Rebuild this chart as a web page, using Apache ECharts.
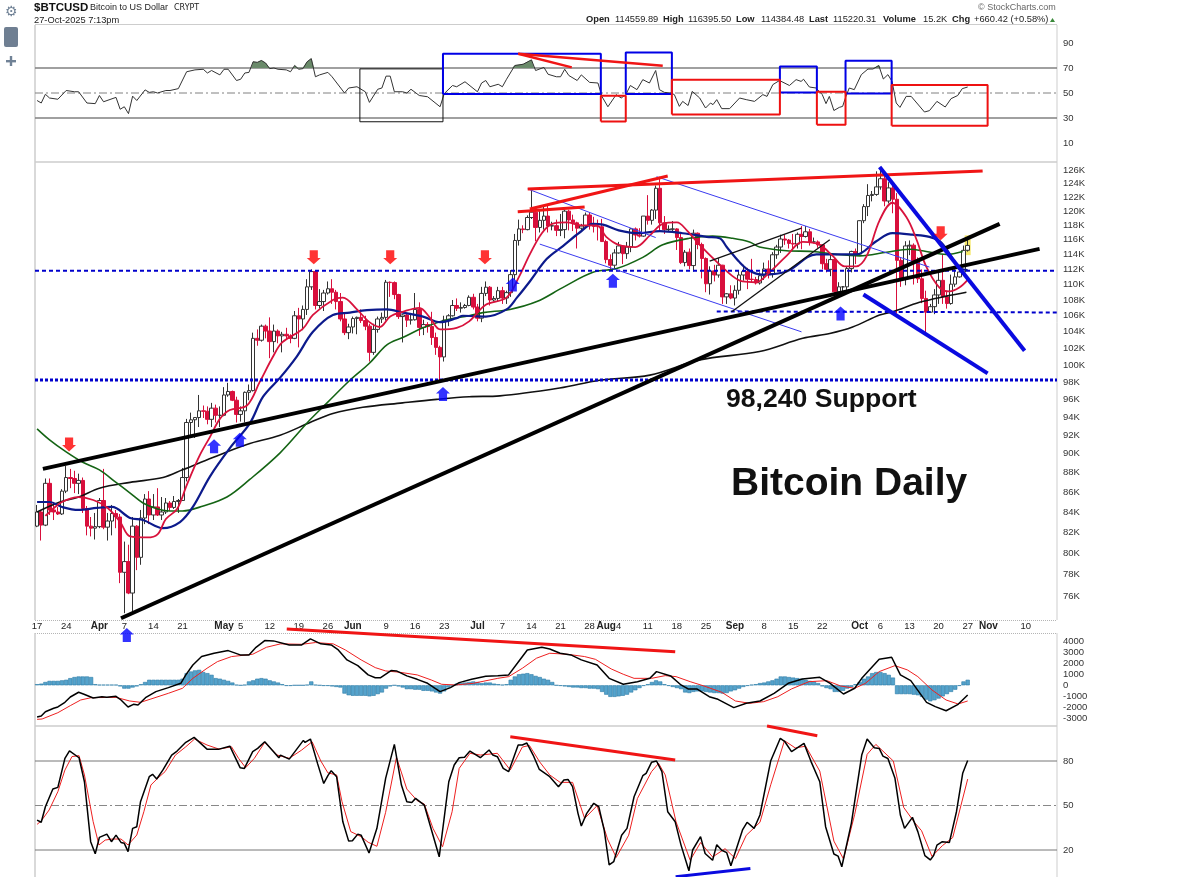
<!DOCTYPE html>
<html><head><meta charset="utf-8"><style>html,body{margin:0;padding:0;background:#fff}#c{width:1200px;height:877px}</style>
<script src="https://cdn.jsdelivr.net/npm/echarts@6/dist/echarts.min.js"></script></head><body><div id="c"></div>
<script>
// ---- axis labels
const tickDays=[0,7,15,21,28,35,45,49,56,63,70,76,84,91,98,106,112,119,126,133,137,140,147,154,161,168,175,182,189,198,203,210,217,224,229,238];
const tickTexts=['17','24','Apr','7','14','21','May','5','12','19','26','Jun','9','16','23','Jul','7','14','21','28','Aug','4','11','18','25','Sep','8','15','22','Oct','6','13','20','27','Nov','10'];
const priceTicks=[76,78,80,82,84,86,88,90,92,94,96,98,100,102,104,106,108,110,112,114,116,118,120,122,124,126];
const rsiTicks=[10,30,50,70,90], macdTicks=[-3000,-2000,-1000,0,1000,2000,3000,4000], stochTicks=[20,50,80];
const dayCount=246;
// ---- candles (thousands of USD), day 0 = 17 Mar
const opens=[82.6,84.0,82.7,86.9,84.2,84.0,83.8,86.1,87.5,87.4,86.9,87.2,84.35,82.6,82.4,82.55,85.15,82.5,83.1,83.85,83.5,78.2,79.2,76.3,82.6,79.6,83.4,85.3,83.7,84.5,83.7,84.0,84.9,84.45,85.05,85.15,87.5,93.4,93.7,93.95,94.7,94.65,93.75,95.0,94.2,94.2,96.5,96.9,95.9,94.3,94.7,96.8,97.0,103.2,102.97,104.7,104.1,102.8,104.1,103.5,103.7,103.5,103.2,106.0,105.6,106.8,109.7,111.7,107.3,107.8,108.9,109.45,109.0,107.8,105.6,103.9,104.6,105.65,105.8,105.4,104.7,101.5,104.3,105.6,105.8,110.3,110.25,108.7,105.9,106.1,105.45,105.5,106.8,104.55,104.9,104.65,103.3,102.1,100.95,105.45,106.0,107.3,106.95,107.05,107.3,108.35,107.1,105.7,108.85,109.65,108.0,108.2,109.2,108.25,108.95,111.3,115.9,117.5,117.4,119.1,119.85,117.7,118.7,119.3,117.9,117.95,117.3,117.4,120.0,118.75,118.35,117.6,117.9,119.45,117.95,117.85,117.8,115.75,113.3,112.55,114.2,115.15,114.1,115.0,117.5,116.65,116.5,119.3,118.7,120.15,123.3,118.35,117.4,117.45,117.5,116.3,112.9,114.3,112.5,116.9,115.35,113.45,110.1,111.8,111.25,112.55,108.4,108.8,108.25,109.25,111.25,111.7,110.7,110.65,110.2,111.15,112.05,111.4,113.95,115.0,116.1,115.95,115.5,115.4,116.75,116.45,117.1,115.7,115.7,115.3,112.75,112.0,113.3,109.05,109.7,109.7,112.1,114.4,114.05,118.65,120.65,122.25,122.4,123.5,124.7,121.45,123.35,121.7,113.2,110.8,115.15,115.25,113.0,110.75,108.2,106.45,107.15,108.65,110.55,108.4,107.55,110.05,111.0,111.65,114.56];
const highs=[84.7,84.2,87.4,87.4,85.0,84.5,86.3,88.7,88.4,88.2,87.9,87.5,84.6,83.5,83.9,85.4,88.4,83.9,84.7,84.2,83.8,81.1,80.8,83.5,82.7,84.2,85.8,86.1,85.8,86.4,85.5,85.4,85.1,85.6,85.3,88.5,93.8,94.5,94.0,96.5,95.3,95.2,95.6,95.4,95.2,97.4,97.9,97.0,96.3,95.2,96.9,97.7,103.9,104.3,104.9,104.9,105.8,104.9,104.3,104.0,104.5,103.7,106.6,107.0,107.3,110.7,112.0,111.8,109.4,109.3,110.4,110.7,109.3,108.9,106.3,105.0,105.9,105.9,106.8,106.0,105.0,105.0,105.9,106.4,110.6,110.4,110.4,108.8,106.2,106.2,106.1,108.9,107.7,105.5,105.2,106.5,103.9,102.3,106.0,106.2,108.0,108.2,107.7,107.5,108.6,108.8,107.5,109.7,110.4,109.8,108.5,109.7,109.7,109.2,111.9,116.8,118.8,118.0,119.4,123.1,119.9,120.0,120.8,120.9,118.5,118.8,119.6,120.2,120.2,119.5,118.5,118.2,119.8,119.8,119.2,118.8,118.9,116.0,114.0,114.7,115.7,115.2,115.7,117.6,117.7,117.6,119.3,122.3,120.3,123.7,125.0,119.3,118.0,118.6,117.6,117.0,114.6,114.8,117.4,117.0,115.6,113.6,112.4,112.6,113.5,112.6,108.9,109.9,109.9,111.8,112.6,112.2,113.4,111.0,111.6,112.9,113.2,114.3,115.3,116.7,116.7,116.1,116.8,117.0,117.9,117.9,117.5,116.3,115.9,115.4,113.4,114.0,113.5,110.3,109.8,112.4,114.5,114.8,118.7,121.0,123.9,122.9,125.8,126.2,125.1,124.2,123.7,122.6,113.5,115.8,115.9,115.5,113.6,112.0,109.2,107.5,109.4,111.6,114.0,109.2,111.3,112.0,112.0,115.2,116.4];
const lows=[82.5,81.2,82.6,83.7,83.2,83.7,83.7,85.9,86.4,85.9,85.8,83.9,81.7,81.6,81.3,82.4,82.3,81.2,81.7,82.4,77.2,74.5,76.2,74.6,78.4,78.9,82.8,82.8,83.2,83.6,83.2,83.8,84.1,84.3,83.9,85.1,87.1,91.9,91.7,92.9,93.9,93.2,92.9,93.4,92.9,94.1,96.3,95.8,93.4,93.5,93.4,95.9,96.9,102.3,102.8,103.2,100.8,101.5,102.6,101.5,103.1,102.6,103.1,102.1,104.2,106.1,109.3,106.8,106.9,106.6,108.7,107.5,106.8,105.3,103.6,103.1,103.8,103.7,105.1,104.2,100.4,101.2,103.9,105.1,105.4,108.4,108.1,105.6,102.7,104.6,104.9,105.4,103.5,103.6,103.9,102.4,101.2,98.2,100.4,104.7,105.9,106.6,106.4,106.9,107.2,106.8,105.3,105.2,108.5,107.3,107.8,107.8,107.5,107.5,108.4,110.6,115.2,116.9,117.3,118.9,115.8,117.0,117.4,117.0,117.3,116.5,116.5,116.2,117.3,117.2,114.8,117.2,117.8,117.4,117.0,115.9,115.7,112.8,112.0,112.0,114.1,112.7,113.4,114.3,115.9,116.3,116.4,118.1,118.1,118.9,117.2,116.8,117.2,117.2,114.6,112.7,112.4,112.0,111.7,114.7,110.8,109.0,108.7,110.4,110.9,107.5,107.5,108.1,107.3,108.7,110.5,109.4,110.2,110.0,110.0,110.6,110.8,110.9,113.4,114.2,115.3,114.8,114.5,114.8,114.7,116.3,115.2,115.5,114.9,112.0,111.6,111.1,108.7,108.6,109.1,109.3,111.6,112.7,113.9,118.3,119.3,121.4,122.2,123.1,120.7,121.1,119.7,106.3,109.7,109.9,113.9,110.0,110.2,107.6,103.6,106.4,106.2,107.5,107.5,106.9,107.4,109.7,110.9,111.3,114.38];
const closes=[84.0,82.7,86.9,84.2,84.0,83.8,86.1,87.5,87.4,86.9,87.2,84.35,82.6,82.4,82.55,85.15,82.5,83.1,83.85,83.5,78.2,79.2,76.3,82.6,79.6,83.4,85.3,83.7,84.5,83.7,84.0,84.9,84.45,85.05,85.15,87.5,93.4,93.7,93.95,94.7,94.65,93.75,95.0,94.2,94.2,96.5,96.9,95.9,94.3,94.7,96.8,97.0,103.2,102.97,104.7,104.1,102.8,104.1,103.5,103.7,103.5,103.2,106.0,105.6,106.8,109.7,111.7,107.3,107.8,108.9,109.45,109.0,107.8,105.6,103.9,104.6,105.65,105.8,105.4,104.7,101.5,104.3,105.6,105.8,110.3,110.25,108.7,105.9,106.1,105.45,105.5,106.8,104.55,104.9,104.65,103.3,102.1,100.95,105.45,106.0,107.3,106.95,107.05,107.3,108.35,107.1,105.7,108.85,109.65,108.0,108.2,109.2,108.25,108.95,111.3,115.9,117.5,117.4,119.1,119.85,117.7,118.7,119.3,117.9,117.95,117.3,117.4,120.0,118.75,118.35,117.6,117.9,119.45,117.95,117.85,117.8,115.75,113.3,112.55,114.2,115.15,114.1,115.0,117.5,116.65,116.5,119.3,118.7,120.15,123.3,118.35,117.4,117.45,117.5,116.3,112.9,114.3,112.5,116.9,115.35,113.45,110.1,111.8,111.25,112.55,108.4,108.8,108.25,109.25,111.25,111.7,110.7,110.65,110.2,111.15,112.05,111.4,113.95,115.0,116.1,115.95,115.5,115.4,116.75,116.45,117.1,115.7,115.7,115.3,112.75,112.0,113.3,109.05,109.7,109.7,112.1,114.4,114.05,118.65,120.65,122.25,122.4,123.5,124.7,121.45,123.35,121.7,113.2,110.8,115.15,115.25,113.0,110.75,108.2,106.45,107.15,108.65,110.55,108.4,107.55,110.05,111.0,111.65,114.55,115.22];
// ---- moving averages [day, K]
const maRed=[[2,83.6],[3,84],[6,85],[10,85.5],[13.5,85.2],[17,84.4],[20,83],[22.4,81.6],[26.5,81.5],[29,81.8],[31,83.3],[33.7,84.3],[36,86.7],[39,89.7],[41.6,91.8],[44,93.8],[46.4,94.8],[50.5,95.3],[53.6,98],[56.8,101],[59,102.7],[64,104.4],[66.4,106.1],[71.2,108],[73.6,108.3],[77,106.8],[80,105.2],[82.5,104.6],[85,105.9],[88,106.5],[92,107],[94.5,105.8],[97,104.3],[101,104.5],[104,105.3],[108,107.4],[113,108.3],[116,111],[118.6,114],[121.5,116.9],[124,118.2],[127.5,118.4],[131,118],[134.7,118],[137,116.4],[140,115.3],[144,115],[147.5,116.6],[150.6,118.2],[154,118.4],[156.4,117.3],[159.5,115.3],[163.6,113],[167.4,111.1],[169.8,110.4],[173,110.3],[176.3,111.6],[180.4,113.8],[184.3,115.7],[188.4,115.3],[191.5,113.8],[194.4,112.4],[197.2,112.4],[199.7,113.8],[202.8,118.7],[205.9,121.2],[209.3,119.1],[211.7,116],[214,112.4],[217.2,109.6],[219.6,109.1],[222,109.6],[224,110.6]];
const maNavy=[[0,85],[3,85],[6,84.5],[10,84.2],[14.4,84.4],[18,84.5],[22.4,83.4],[25.5,83.2],[30.3,82.4],[34.4,83],[37.5,84.5],[41.6,87.6],[46.4,90.6],[51.2,93.3],[54.4,96.3],[58.5,98.5],[62.5,101],[66.4,104],[71.2,106.1],[75.3,106.4],[79.4,106.7],[84.2,106.8],[88,106.4],[92.9,105.9],[97,105.2],[101,105.7],[102.5,106],[108,105.9],[113,106.8],[115.5,108.3],[118.6,110.4],[122.7,113.4],[126.5,115.1],[130.6,117],[133.8,118.2],[136.2,118.1],[140,117.3],[145,116.9],[149.9,117.2],[155.4,116.9],[161.2,116.4],[164.3,116.2],[166,115],[169,113],[171.5,111.8],[174.6,111.3],[180.4,111.7],[187.6,114],[192.4,114],[197.2,114],[202,115.8],[205.9,116.9],[210.7,116.7],[214.8,116.4],[217.7,115.6],[222,112.2],[224,111.9]];
const maGreen=[[0,92.7],[3,91.5],[7,90.2],[11,89.1],[15,88.3],[19,87],[22.4,85.9],[25.5,84.9],[29,84.3],[32,84.1],[35,84.1],[40,84.6],[45.7,85.5],[51.2,87.3],[58.5,90.1],[65.7,93.7],[69.8,95.6],[75.3,98.2],[80,100.2],[84.2,102.4],[88,103.3],[92.9,104.5],[98.6,105.5],[104,106],[107.3,106.4],[113.8,106.8],[120.3,107.8],[126.5,109.6],[133.8,111.6],[139.5,112.1],[145.8,113.6],[150.6,115.3],[157,116.2],[162.6,116.5],[167.4,116.2],[171.5,115.7],[173.9,115],[180.4,114.5],[186.7,114.4],[192.4,114],[198,113.8],[204.5,114.3],[210,114.7],[214,114.4],[218.9,114],[222.8,114.4]];
const maBlack=[[0,84],[5.5,85],[10,85.5],[15,86.4],[22.4,87],[30.3,87.5],[35,88.3],[42.3,89.6],[50.5,91],[58.5,92],[65.7,93.4],[71.2,94.4],[78.4,95.1],[88,95.6],[96.2,96],[104,96.3],[111.4,96.4],[125.8,97.3],[135.4,98.2],[147.5,98.8],[159.5,100.6],[173.9,101.6],[184.3,103.2],[190.8,103.8],[196.3,104.6],[202.8,106.1],[205.9,106.5],[212.4,107.7],[218.9,108.5],[223.7,109]];
// ---- drawn trend lines on the price panel [day, K]
const thickBlack=[[[20.2,74.05],[231.7,118.2]],[[1.4,88.4],[241.3,114.75]]];
const thickRed=[[[118.1,123.2],[227.6,125.85]],[[115.7,119.9],[131.8,120.6]],[[118.6,120.3],[151.8,125.1]]];
const thinBlue=[[[118.1,123.2],[148.9,116.3]],[[121,115.4],[184,104]],[[149.1,125],[214.8,112.3]]];
const thinBlack=[[[161.9,113.1],[184,117.6]],[[167.2,106.5],[190.8,116]]];
const thickBlue=[[[202.8,126.45],[237.7,101.7]],[[198.9,108.7],[228.8,99]]];
const levelResistance=[[-0.5,111.8],[245.5,111.8]];
const levelSupport=[[-0.5,98.24],[245.5,98.24]];
const levelMid=[[163.6,106.55],[255.7,106.4]];
const lastCandleGlow=[[224,116.6],[224,113.9]];
const redArrows=[[7.7,91],[66.6,113.6],[85,113.6],[107.8,113.6],[217.5,116.9]];
const blueArrows=[[21.6,72.6],[42.6,90.8],[48.8,91.5],[97.7,96.6],[114.5,110],[138.6,110.5],[193.4,106.3]];
// ---- RSI
const rsiLine=[[0,44],[1,42],[2,49],[3,46],[5,45],[7,52],[9,51],[10,51],[12,42],[14,41.5],[15,48],[16,43],[19,46.5],[20,37],[21,39],[22,33.5],[23,47.5],[24,44],[26,52.5],[27,50.5],[28,51],[29,50],[31,52],[32,52],[34,53.5],[36,67],[38,68.5],[40,69],[41,66],[42,68],[44,64.5],[45,69],[46,69],[48,60],[49,61],[50,66],[51,66.5],[52,75],[53,74.5],[54,76],[55,74],[56,69.5],[57,70],[58,69],[60,68.5],[61,67],[62,72],[63,69],[64,69.5],[65,75],[66,77.5],[67,63],[68,64.5],[70,66.5],[71,63],[74,50],[75,54],[77,55],[79,51],[80,42.5],[82,53],[83,54],[84,63.5],[85,63.5],[86,51],[88,51],[89,50],[90,53],[92,48],[94,47],[97,39],[98,49.5],[100,56],[101,55],[103,59],[106,51],[107,58],[108,60],[109,55],[111,57],[112,55],[113,61],[115,72],[117,73],[119,76.5],[120,68],[122,70.5],[123,65],[125,63],[126,63],[127,69],[128,64],[130,60],[131,64.5],[133,58.5],[135,58],[136,47],[137.4,39],[139.4,48.7],[140.6,46],[141.7,48.7],[142.8,56],[144.4,52.7],[145.8,60.7],[147.4,58],[148.9,68],[149.8,52.7],[151,50.5],[152.6,50],[153.4,48.7],[154.6,39.3],[155.4,43.3],[156.7,40],[157.7,51.3],[159.5,46],[160.9,38],[162.1,42],[162.7,40.7],[163.6,44.7],[164.8,37.5],[166.7,37.5],[169.1,46],[170.7,44.7],[172.7,43.3],[174.7,48.7],[175.7,47.3],[177.1,56.7],[178.7,60],[181.1,56],[182.7,60.7],[183.9,59.3],[184.5,61],[185.9,54.8],[187.5,54],[189,48.7],[189.9,41.5],[190.7,47.3],[191.8,36],[193.1,38.5],[193.9,39.3],[194.7,47.3],[195.5,54],[196.7,52.7],[198.4,64.7],[200,69.2],[201.2,69.2],[202.6,72],[203.7,61.2],[204.8,64.7],[205.8,59.3],[206.8,42],[207.7,38.5],[209.2,47.3],[210.4,47.3],[213.6,34.8],[214.8,35.9],[216.6,43.3],[218.6,38.8],[220,45.5],[221.6,48],[222.7,53.5],[224,54.8]];
const rsiOverbought=[[[51.6,70],[52,75],[53,74.5],[54,76],[55,74],[55.9,70]],[[61.7,70],[62,72],[62.7,70],[64,70],[65,75],[66,77.5],[66.6,70]],[[114.4,70],[115,72],[117,73],[119,76.5],[119.6,70]],[[201.5,70],[202.6,72],[203,70]]];
const rsiBlackBoxes=[[77.7,97.7,27,69.3]];
const rsiBlueBoxes=[[97.7,135.7,49.2,81.4],[141.7,152.8,49.2,82.5],[178.8,187.7,50.5,71.3],[194.6,205.7,49.7,75.8]];
const rsiRedBoxes=[[135.7,141.7,27.3,47.8],[152.8,178.8,32.9,60.6],[187.7,194.6,24.6,51],[205.7,228.8,23.8,56.4]];
const rsiRedLines=[[[115.8,81.4],[128.7,70.5]],[[115.8,81.4],[150.6,71.8]]];
// ---- MACD
const macdLine=[[0,-2870],[1,-2780],[2,-2390],[4,-2080],[5,-1960],[6.7,-1540],[8,-1060],[10,-630],[11.3,-815],[13.5,-1150],[15.6,-1030],[16.8,-1090],[19,-1000],[20.2,-1330],[21.9,-1960],[23.2,-1720],[24.3,-1780],[26.1,-1120],[28.6,-570],[31.6,-210],[34.6,180],[35.8,940],[37.5,1840],[39.6,2600],[42.6,2900],[46,3140],[48.9,2750],[51,2750],[52.7,3440],[54.8,4050],[56.9,4020],[60.7,3650],[63.7,3650],[65.8,4200],[68.3,3750],[70.8,3650],[72.5,3200],[74.6,2300],[77.2,1780],[79.7,940],[81.4,690],[82.7,690],[85.2,1330],[86.5,1300],[89,850],[91.5,540],[94,180],[97,-570],[99.5,-210],[101.6,240],[104.6,540],[108,815],[110.9,875],[113.5,940],[115.6,1990],[118,3200],[121.5,3440],[123.4,3290],[125.9,2900],[128.5,2750],[131,2300],[134.8,1840],[137.7,630],[141.1,90],[144.5,330],[147.5,630],[149.1,1240],[152.5,850],[155,30],[156.7,-330],[158.8,-330],[161.8,-1030],[163.9,-1270],[167.7,-2020],[170.7,-1630],[174,-1420],[177.4,-725],[180.8,180],[184.2,570],[188.4,725],[190.9,180],[194.1,-785],[196.8,-270],[198.5,630],[202.7,2350],[205.7,2540],[207.8,940],[210.3,420],[214.1,-1540],[216.2,-1930],[218.8,-2300],[221.7,-1720],[224,-875]];
const macdSignal=[[0,-3080],[1.2,-3050],[5,-2480],[8,-1840],[10.5,-1330],[13,-1120],[19,-1090],[22.3,-1420],[24.9,-1540],[27.4,-1240],[31.6,-725],[35,-270],[37.5,630],[40.9,1540],[43.4,2140],[46.8,2600],[51.9,2810],[55.2,3440],[58.6,3750],[63.7,3710],[67,3870],[71.3,3750],[74.2,3200],[78,2300],[81.4,1600],[83.9,1300],[87.3,1180],[91.5,940],[94.9,480],[97.4,90],[100.8,30],[105,180],[110.9,630],[113.5,785],[116.8,1540],[120.2,2450],[123.4,2900],[127.6,2810],[131.8,2600],[134.4,2350],[138.2,1480],[141.1,1000],[143.7,630],[147.9,630],[151.2,875],[153.8,785],[157.2,330],[160.5,-60],[164.8,-630],[168.1,-1420],[171.5,-1630],[174.9,-1480],[178.3,-1030],[181.6,-330],[185.8,330],[190.1,420],[193.4,-60],[196.8,-270],[199.4,180],[202.7,1240],[206.5,1780],[209.5,1390],[212,785],[215.4,-420],[218.8,-1330],[221.7,-1690],[224,-1420]];
const macdHist=[100,150,300,400,400,400,450,500,650,750,800,800,800,750,100,50,50,50,50,50,-100,-300,-300,-200,-100,100,300,500,500,500,500,500,500,500,500,600,1100,1250,1350,1400,1200,1100,950,650,600,500,400,250,50,0,50,350,450,600,650,600,450,350,250,100,-50,-50,0,0,0,50,350,50,0,-50,-50,-100,-150,-200,-750,-900,-950,-950,-950,-950,-1000,-950,-800,-650,-300,-100,0,-100,-200,-350,-350,-400,-400,-500,-500,-550,-650,-750,-550,-200,0,150,200,250,300,350,300,200,250,250,150,100,50,100,500,800,1000,1050,1100,1000,850,750,600,500,300,0,-50,-100,-150,-200,-200,-250,-250,-300,-300,-350,-600,-850,-1050,-1050,-1000,-950,-850,-650,-450,-250,-50,100,300,450,350,100,-50,-150,-250,-350,-650,-700,-600,-550,-550,-600,-650,-700,-700,-750,-700,-550,-450,-300,-150,-50,50,100,200,250,350,450,600,800,800,750,700,650,600,500,400,350,200,-100,-250,-350,-600,-600,-500,-300,-150,100,300,600,800,1100,1200,1200,1100,950,700,-800,-800,-800,-800,-850,-900,-1050,-1300,-1450,-1350,-1200,-1000,-800,-600,-400,-50,350,500];
const macdRedLine=[[60.1,5095],[153.6,3040]];
// ---- Stochastics
const stochK=[[0,40.2],[1,38.7],[2,49.2],[3.8,61.1],[5,62.2],[6.7,81.8],[7.8,86.9],[10.1,82.2],[11.4,66],[12.9,25.6],[14,17.5],[15,28.5],[16.8,30.7],[17.9,25.6],[19,30],[20.2,25.1],[21,24.5],[21.9,18.9],[23,34.6],[24,35.7],[24.9,52.6],[27,69.4],[27.8,71],[28.8,67.9],[30.3,74],[32.4,84],[33.7,86.7],[35.8,92.6],[37.8,95.9],[40.9,88],[43.8,88],[46.4,90],[48.9,75.4],[49.9,75],[51.9,86.3],[53.1,88.5],[54.8,93],[58.2,82.2],[58.6,84],[60.7,81.3],[64.1,93.9],[64.5,92.5],[65.8,94.8],[67.5,78.4],[69,64.9],[70,70.1],[70.8,73.5],[72.1,69.4],[73.6,39],[75,26],[75.9,26.2],[77.2,30.7],[78,30],[79.9,18],[81.8,34.6],[83.9,68.3],[86,91.2],[87.7,63.8],[89,52.5],[90.2,52.1],[91.1,54.8],[93.2,50.3],[95.3,30],[96.8,15.4],[99.1,66],[100.4,77.3],[101.6,82.2],[102.9,82.5],[104.2,86.7],[104.6,86.9],[106.7,82.2],[108.8,87.4],[109.7,84],[110.8,82.9],[112.2,75],[113.5,72.8],[115.8,90.8],[116.8,90.8],[117.9,92.1],[119.4,84],[120.9,74.3],[123.4,69.4],[125.5,62.7],[126.8,67.2],[127.8,67.6],[128.9,62.7],[130.2,44.7],[131,36.2],[132.3,44.7],[134,51.5],[135.2,49.2],[136.5,33.5],[137.7,9.9],[138.8,12.1],[140.7,30],[142,34.6],[143.7,55.9],[145.8,70.1],[146.6,71.7],[147.9,79.1],[149.1,80],[150.4,72.8],[151.8,45.8],[153.6,39],[155,23.3],[156.9,6],[157.8,20],[159.7,29],[160.8,17.6],[162.6,13.1],[163.6,23.6],[164.8,19.8],[166,18.2],[167,9.4],[169.8,33.5],[170.9,38.7],[172.6,34.6],[174,43.6],[176.6,80.2],[178.9,95.3],[180,93],[181.6,86.3],[184.6,91.9],[186.3,79.6],[188.4,66],[189.8,35.7],[191.8,17.3],[192.8,15.9],[193.7,8.7],[196,38],[198.5,84],[199.8,94.8],[201.5,89],[202.7,88.5],[203.6,83.3],[204.8,81.7],[206.5,68.3],[207.8,43.6],[208.8,34.6],[210.7,42],[212,32.4],[213.7,16.2],[215,13.3],[215.8,16.2],[216.6,23.3],[217.9,25.6],[219.6,25.1],[221.3,45.8],[222.8,71.7],[224,80.4]];
const stochD=[[0,37.3],[1,39.6],[2.9,47],[5,59.3],[6.7,73.9],[8.4,83],[10.1,83.6],[11.4,70.6],[13.5,39.1],[14.9,23.4],[16.4,26.7],[18.1,27.4],[20.2,27.4],[21.9,23.4],[24,30.1],[25.7,45.8],[27.4,63.8],[29,68.3],[30.8,72.8],[33.3,84],[35.8,89.6],[37.9,94.8],[40.9,90.8],[43.8,88],[46.8,89.6],[48.5,81.8],[50.2,75.5],[52.3,81.8],[54.8,92.6],[57.8,84],[60.7,81.8],[63.7,87.4],[66.2,93],[68.3,80],[70,72],[72.1,70.6],[73.4,52.6],[75.5,32.4],[78,29],[79.7,25.2],[81.8,22.5],[83.9,45.4],[86.5,82.5],[89,61.1],[91.5,53.3],[93.2,51],[95.3,34.6],[97.6,22.2],[99.9,45.8],[101.6,75],[104.2,85.2],[106.7,84],[110.8,85.2],[113.9,73.9],[116.8,89.4],[118.5,90.5],[121,79.3],[123.4,70.6],[125.9,65.6],[128.9,65.6],[131.8,41.3],[134.8,49.9],[137.3,27.4],[139.4,15],[142.4,30],[144.5,54.7],[147.9,72.8],[149.6,78.4],[151.2,70.6],[153.8,39],[157.2,13.1],[159.7,25],[162.6,15.3],[165.6,20.9],[168.1,14.2],[170.7,29.9],[174,38.7],[176.6,64],[179.9,93.7],[182.5,88.8],[185,90],[188.4,73.2],[191.8,26],[194.1,14],[196.8,44],[199.8,84.5],[201.9,91.2],[206.1,80],[208.6,48.7],[211.2,38.6],[212.9,33],[215.4,15.7],[217.9,22.9],[220.4,28.4],[224,67.8]];
const stochRedLines=[[[113.9,96.4],[153.6,80.7]],[[175.7,103.6],[187.8,97]]];
const stochBlueLine=[[153.7,2],[171.7,7.6]];
// ---- header text
const headerStats=[['Open',586,1],['114559.89',615,0],['High',663,1],['116395.50',688,0],['Low',736,1],['114384.48',761,0],['Last',809,1],['115220.31',833,0],['Volume',883,1],['15.2K',923,0],['Chg',952,1],['+660.42 (+0.58%)',974,0]];

// ---- build
const L=35,W=1022,FONT='"Liberation Sans",Arial,sans-serif';
const panels=[[25,137],[162,458],[633,93],[726,151]];
const tickMap={};tickDays.forEach((d,i)=>tickMap[d]=tickTexts[i]);
const cats=Array.from({length:dayCount},(_,i)=>String(i));
const grids=panels.map(p=>({left:L,top:p[0],width:W,height:p[1],show:false}));
const xAxes=[];
panels.forEach((p,i)=>xAxes.push({type:'category',gridIndex:i,data:cats,boundaryGap:true,axisLine:{show:false},axisTick:{show:false},splitLine:{show:false},
  axisLabel:i===1?{show:true,margin:1,fontSize:9.5,fontFamily:FONT,color:'#222',interval:(k)=>tickMap[k]!==undefined,hideOverlap:false,
    formatter:v=>{const t=tickMap[v];return /[A-Z]/.test(t)?'{b|'+t+'}':t;},rich:{b:{fontWeight:'bold',fontSize:10,fontFamily:FONT,color:'#222'}}}:{show:false}}));
panels.forEach((p,i)=>xAxes.push({type:'value',gridIndex:i,min:-0.5,max:dayCount-0.5,show:false}));
const yBase={position:'right',axisLine:{show:false},axisTick:{show:false},splitLine:{show:false}};
const lab=(vals,fmt)=>({show:true,customValues:vals,fontSize:9.5,fontFamily:FONT,color:'#333',margin:6,formatter:fmt});
const yAxes=[
 {...yBase,type:'value',gridIndex:0,min:-5.2,max:104.4,axisLabel:lab(rsiTicks,v=>String(v))},
 {...yBase,type:'log',logBase:10,gridIndex:1,min:73.9,max:127.2,axisLabel:lab(priceTicks,v=>Math.round(v)+'K')},
 {...yBase,type:'value',gridIndex:2,min:-3683,max:4733,axisLabel:lab(macdTicks,v=>String(v))},
 {...yBase,type:'value',gridIndex:3,min:1.8,max:103.6,axisLabel:lab(stochTicks,v=>String(v))}
];
const line=(g,data,color,width,extra={})=>({type:'line',xAxisIndex:4+g,yAxisIndex:g,data,showSymbol:false,symbol:'none',silent:true,animation:false,clip:false,z:5,
  lineStyle:{color,width,...(extra.lineStyle||{})},...(extra.series||{})});
const hline=(g,v,color,w,type)=>line(g,[[-0.5,v],[dayCount-0.5,v]],color,w,{lineStyle:{type},series:{z:1}});
const box=b=>[[b[0],b[2]],[b[1],b[2]],[b[1],b[3]],[b[0],b[3]],[b[0],b[2]]];
const DASHDOT=[8,3,2,3];
const arrowDown='path://M2.5 0H9.5V6.5H12L6 12L0 6.5H2.5Z', arrowUp='path://M6 0L12 5.5H9.5V12H2.5V5.5H0Z';
const smoothMA={series:{smooth:0.35}};
const series=[];
// RSI
series.push(hline(0,70,'#808080',1.4),hline(0,30,'#808080',1.4),hline(0,50,'#808080',1,DASHDOT));
rsiOverbought.forEach(s=>series.push(line(0,s,'#6a8a6a',0.5,{series:{areaStyle:{origin:70,color:'#6a8a6a',opacity:1},z:2}})));
series.push(line(0,rsiLine,'#333',1));
rsiBlackBoxes.forEach(b=>series.push(line(0,box(b),'#111',1)));
rsiBlueBoxes.forEach(b=>series.push(line(0,box(b),'#0000e6',2)));
rsiRedBoxes.forEach(b=>series.push(line(0,box(b),'#ee1111',2)));
rsiRedLines.forEach(s=>series.push(line(0,s,'#f01515',2.5)));
// Price
series.push(line(1,lastCandleGlow,'#f5e86a',6,{series:{z:1}}));
series.push({type:'candlestick',xAxisIndex:1,yAxisIndex:1,barWidth:4,animation:false,silent:true,z:2,
  data:closes.map((c,i)=>[opens[i],c,lows[i],highs[i]]),
  itemStyle:{color:'#ffffff',color0:'#d80f3c',borderColor:'#333333',borderColor0:'#d80f3c',borderWidth:1}});
series.push(line(1,maBlack,'#111',1.6,smoothMA),line(1,maGreen,'#146414',1.6,smoothMA),line(1,maNavy,'#0c1a8c',2.2,smoothMA),line(1,maRed,'#d8123c',1.8,smoothMA));
series.push(line(1,levelResistance,'#0000cc',2,{lineStyle:{type:[4,3]}}));
series.push(line(1,levelSupport,'#0000cc',3,{lineStyle:{type:[3,2]}}));
series.push(line(1,levelMid,'#0000cc',2,{lineStyle:{type:[4,3]}}));
thinBlue.forEach(s=>series.push(line(1,s,'#3a3af0',1)));
thinBlack.forEach(s=>series.push(line(1,s,'#111',1.3)));
thickRed.forEach(s=>series.push(line(1,s,'#f01515',3)));
thickBlack.forEach(s=>series.push(line(1,s,'#000',4)));
thickBlue.forEach(s=>series.push(line(1,s,'#0a0ae0',4)));
series.push({type:'scatter',xAxisIndex:5,yAxisIndex:1,data:redArrows,symbol:arrowDown,symbolSize:[14,14],itemStyle:{color:'#ff0000'},silent:true,animation:false,clip:false,z:6});
series.push({type:'scatter',xAxisIndex:5,yAxisIndex:1,data:blueArrows,symbol:arrowUp,symbolSize:[14,14],itemStyle:{color:'#0000ff'},silent:true,animation:false,clip:false,z:6});
// MACD
series.push({type:'bar',xAxisIndex:2,yAxisIndex:2,data:macdHist,barWidth:'100%',animation:false,silent:true,z:2,itemStyle:{color:'#55a3cc',borderColor:'#2a7ba6',borderWidth:0.6}});
series.push(line(2,macdSignal,'#ee2020',1),line(2,macdLine,'#000',1.5));
series.push(line(2,macdRedLine,'#f01515',3));
// Stochastics
series.push(hline(3,80,'#777',1),hline(3,20,'#777',1),hline(3,50,'#888',1,DASHDOT));
series.push(line(3,stochD,'#ee2020',1),line(3,stochK,'#000',1.5));
stochRedLines.forEach(s=>series.push(line(3,s,'#f01515',3)));
series.push(line(3,stochBlueLine,'#0a0ae0',3));

// frame + header
const tx=(text,x,y,font,fill='#222')=>({type:'text',x,y,silent:true,z:20,style:{text,font,fill,verticalAlign:'middle',align:'left'}});
const ln=(x1,y1,x2,y2,stroke,w=1,dash)=>({type:'line',silent:true,z:0,shape:{x1,y1,x2,y2},style:{stroke,lineWidth:w,lineDash:dash}});
const R=L+W, gcolor='#cdcdcd';
const graphic=[
 ln(L,24.5,R,24.5,gcolor,1),ln(L,162,R,162,gcolor,1.5),ln(L,620.5,R,620.5,'#b5b5b5',1,[1,1]),ln(L,633.5,R,633.5,'#b5b5b5',1,[1,1]),ln(L,726,R,726,gcolor,1.5),
 ln(L,25,L,620,gcolor,1.5),ln(L,633,L,877,gcolor,1.5),ln(R,25,R,620,gcolor,1),ln(R,633,R,877,gcolor,1),
 tx('$BTCUSD',34,8,'bold 11.5px '+FONT,'#111'),tx('Bitcoin to US Dollar',90,8,'9px '+FONT),tx('CRYPT',174,8,'8px "DejaVu Sans"'),
 tx('27-Oct-2025 7:13pm',34,20,'9.3px '+FONT),
 ...headerStats.map(h=>tx(h[0],h[1],19.5,(h[2]?'bold ':'')+'9.3px '+FONT,'#222')),
 {type:'polygon',silent:true,shape:{points:[[1050,22],[1055,22],[1052.5,18]]},style:{fill:'#3a8a3a'}},
 tx('\u00A9 StockCharts.com',978,8,'9px '+FONT,'#666'),
 tx('\u2699',5,12,'14px "DejaVu Sans"','#708296'),
 {type:'rect',silent:true,shape:{x:4,y:27,width:14,height:20,r:2},style:{fill:'#6f7f92'}},
 {type:'rect',silent:true,shape:{x:6,y:60,width:10,height:2.4},style:{fill:'#708296'}},
 {type:'rect',silent:true,shape:{x:9.8,y:56,width:2.4,height:10},style:{fill:'#708296'}},
 tx('98,240 Support',726,400,'bold 26.6px '+FONT,'#111'),
 tx('Bitcoin Daily',731,484,'bold 39px '+FONT,'#111')
];
echarts.init(document.getElementById('c')).setOption({animation:false,backgroundColor:'#fff',grid:grids,xAxis:xAxes,yAxis:yAxes,series,graphic:{elements:graphic}});
</script>
</body></html>
